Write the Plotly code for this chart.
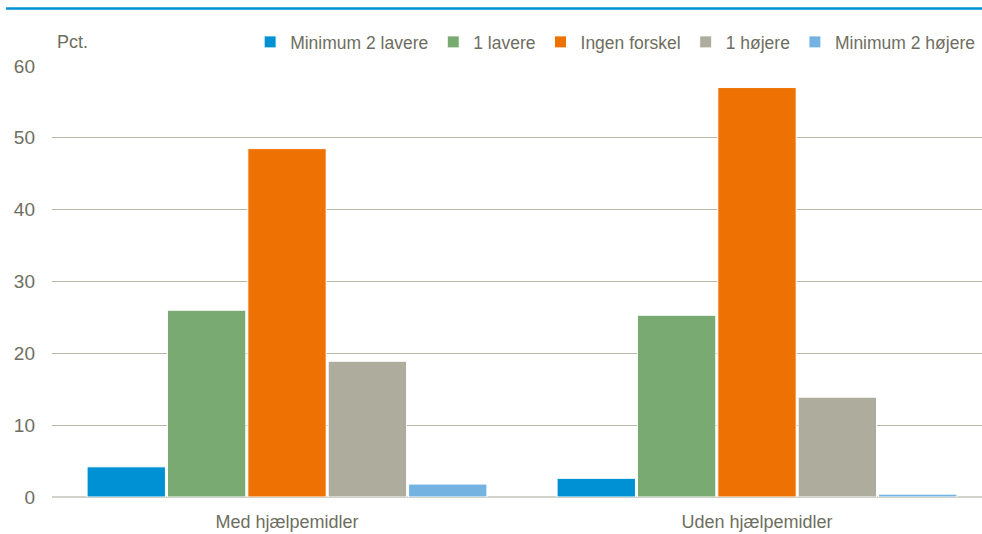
import plotly.graph_objects as go

categories = ["Med hjælpemidler", "Uden hjælpemidler"]
series_names = ["Minimum 2 lavere", "1 lavere", "Ingen forskel", "1 højere", "Minimum 2 højere"]
min2_lavere = [4.2, 2.6]
en_lavere = [26.0, 25.3]
ingen_forskel = [48.5, 57.0]
en_hojere = [18.9, 13.9]
min2_hojere = [1.8, 0.4]
y_ticks = [0, 10, 20, 30, 40, 50, 60]

series_values = [min2_lavere, en_lavere, ingen_forskel, en_hojere, min2_hojere]
colors = ["#0091D4", "#78AA71", "#EE7203", "#AEAC9C", "#74B3E1"]

FONT = "Liberation Sans, Arial, sans-serif"
TEXT = "#6E6E60"

W, H = 982, 534
L, R, T, B = 52, 0, 66, 37
ph = H - T - B
pw = W - L - R

fig = go.Figure()
for name, vals, col in zip(series_names, series_values, colors):
    fig.add_trace(go.Bar(
        x=categories, y=vals, name=name,
        marker=dict(color=col, line=dict(color="white", width=1)),
    ))

fig.update_layout(
    width=W, height=H,
    margin=dict(l=L, r=R, t=T, b=B, pad=0, autoexpand=False),
    paper_bgcolor="white", plot_bgcolor="white",
    barmode="group", bargap=0.145, bargroupgap=0.025,
    font=dict(family=FONT, size=18, color=TEXT),
    showlegend=True,
    legend=dict(
        orientation="h", x=0.998, xanchor="right",
        y=1 + 24 / ph, yanchor="middle",
        font=dict(family=FONT, size=17.5, color=TEXT),
        itemwidth=30, traceorder="normal",
        bgcolor="rgba(0,0,0,0)",
    ),
    xaxis=dict(
        range=[-0.5, -0.5 + pw / 470],
        showgrid=False, showline=False, zeroline=False,
        ticks="", ticklabelstandoff=12,
        tickfont=dict(family=FONT, size=18, color=TEXT),
    ),
    yaxis=dict(
        range=[0, 60], tickvals=y_ticks,
        showgrid=True, gridcolor="#B9B8A6", gridwidth=1,
        zeroline=True, zerolinecolor="#D3D2CA", zerolinewidth=2,
        showline=False, ticks="", ticklabelstandoff=16,
        tickfont=dict(family=FONT, size=19, color=TEXT),
    ),
    annotations=[dict(
        text="Pct.", xref="paper", yref="paper",
        x=0.003, y=1 + 24 / ph, xanchor="left", yanchor="middle",
        showarrow=False, font=dict(family=FONT, size=18, color=TEXT),
    )],
    shapes=[dict(
        type="line", xref="paper", yref="paper",
        x0=(6 - L) / pw, x1=1, y0=1 + (T - 8.5) / ph, y1=1 + (T - 8.5) / ph,
        line=dict(color="#0091D4", width=2.5),
    )],
)

fig.write_html(
    "out.html",
    config={"displayModeBar": False},
    post_script="document.body.style.margin='0';document.body.style.overflow='hidden';",
)
